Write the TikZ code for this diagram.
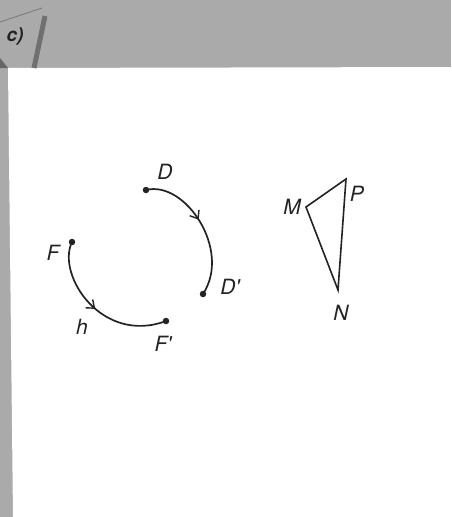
\documentclass[tikz,border=0pt]{standalone}
\usepackage{fontspec}
\setmainfont{TeX Gyre Heros}
\usetikzlibrary{decorations.markings,arrows.meta}
\definecolor{scan}{RGB}{170,170,170}
\definecolor{ink}{RGB}{35,35,35}
\tikzset{
  curve/.style={draw=ink,line width=1.7pt},
  midarrow/.style={postaction={decorate},decoration={markings,mark=at position #1 with {\arrow{Straight Barb[length=7pt,width=11pt,line width=1.4pt]}}}},
  pt/.style={circle,fill=ink,inner sep=0pt,minimum size=6.5pt},
  lab/.style={font=\fontsize{21}{23}\selectfont\itshape,text=ink,inner sep=0pt},
  edge/.style={draw=ink,line width=1.6pt,line join=miter}
}
\begin{document}
\begin{tikzpicture}[x=1pt,y=-1pt]
\useasboundingbox (0,0) rectangle (451,517);
% scanned background
\fill[scan] (0,0) rectangle (451,517);
\fill[white] (8,68) -- (451,67) -- (451,517) -- (13,517) -- cycle;
% binding shadow
\draw[ink!65,line width=5pt] (45,16) -- (34,68);
\draw[ink!60,line width=0.8pt] (0,22) -- (42,8);
\fill[ink!70] (0,58) -- (8,68) -- (0,68) -- cycle;
\node[font=\fontsize{19}{20}\selectfont\bfseries\itshape,text=ink,inner sep=0pt] (c) at (15,36) {c)};
% points
\node[pt] (D) at (146,190) {};
\node[pt] (Dp) at (203,294) {};
\node[pt] (F) at (72,242) {};
\node[pt] (Fp) at (166,321) {};
% curves
\draw[curve,midarrow=0.45] (D.center) .. controls (185,180) and (232,250) .. (Dp.center);
\draw[curve,midarrow=0.5] (F.center) .. controls (56,275) and (102,345) .. (Fp.center);
% labels
\node[lab] (lD) at (165,172) {D};
\node[lab] (lDp) at (230,287) {D\textquotesingle};
\node[lab] (lF) at (53,253) {F};
\node[lab] (lh) at (82,327) {h};
\node[lab] (lFp) at (163,344) {F\textquotesingle};
% triangle
\coordinate (M) at (306,207);
\coordinate (P) at (346,179);
\coordinate (N) at (338,290);
\draw[edge] (M) -- (P) -- (N) -- cycle;
\node[lab] (lM) at (292,207) {M};
\node[lab] (lP) at (357,194) {P};
\node[lab] (lN) at (341,313) {N};
\end{tikzpicture}
\end{document}
